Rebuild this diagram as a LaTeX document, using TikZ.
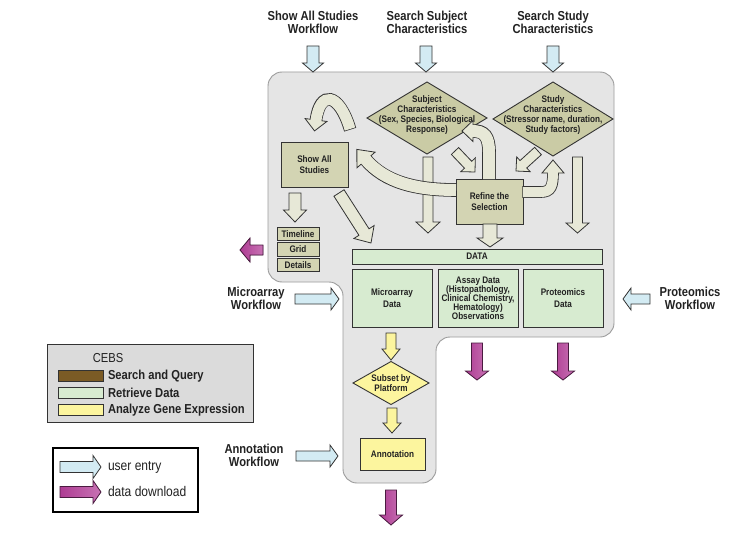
\documentclass[tikz,border=0pt]{standalone}
\usepackage{fontspec}
\setmainfont{Liberation Sans}[FakeStretch=0.86]
\usetikzlibrary{shapes.geometric,calc}
\definecolor{txt}{HTML}{222222}
\definecolor{bd}{HTML}{333333}
\definecolor{region}{HTML}{E5E5E5}
\definecolor{regionbd}{HTML}{9C9C9C}
\definecolor{khaki}{HTML}{D3D4B3}
\definecolor{khakid}{HTML}{CACBA5}
\definecolor{khakil}{HTML}{E7E8D7}
\definecolor{gfill}{HTML}{D7EBD0}
\definecolor{yel}{HTML}{FCF59E}
\definecolor{ublue}{HTML}{D3EBF3}
\definecolor{purp}{HTML}{AE3C93}
\definecolor{purpl}{HTML}{C873B4}
\definecolor{purpd}{HTML}{4A1B40}
\definecolor{sqbrown}{HTML}{7B5B25}
\definecolor{legbg}{HTML}{DBDBDB}
% straight block arrow: style, from, to, half shaft, half head, head length
\newcommand\sarrow[6]{%
  \filldraw[#1] let \p1=(#2), \p2=(#3), \n1={atan2(\y2-\y1,\x2-\x1)}, \n2={veclen(\x2-\x1,\y2-\y1)} in
  [shift={(\p1)}, rotate=\n1] (0,-#4) -- ({\n2-#6},-#4) -- ({\n2-#6},-#5) -- (\n2,0)
  -- ({\n2-#6},#5) -- ({\n2-#6},#4) -- (0,#4) -- cycle;}
% curved block arrow: fill, path, end point, point before end, shaft width, outer width, half head, head length
\newcommand\carrow[8]{%
  \draw[line width=#6pt, bd, shorten <=-0.7pt] #2;
  \filldraw[fill=#1, draw=bd, line width=0.8pt] let \p1=(#4), \p2=(#3), \n1={atan2(\y2-\y1,\x2-\x1)} in
  [shift={(\p2)}, rotate=\n1] (0,-#7) -- (#8,0) -- (0,#7) -- cycle;
  \draw[line width=#5pt, #1, shorten >=-1.2pt] #2;}
\begin{document}
\begin{tikzpicture}[x=1pt,y=-1pt,
  every node/.style={text=txt, align=center, inner sep=0pt, outer sep=0pt},
  nf/.style={font=\fontsize{9.5}{10.5}\selectfont\bfseries},
  tf/.style={font=\fontsize{13}{13}\selectfont\bfseries},
  lf/.style={font=\fontsize{13}{14}\selectfont\bfseries},
  kbox/.style={draw=bd, fill=khaki, line width=0.9pt, nf},
  gbox/.style={draw=bd, fill=gfill, line width=0.9pt, nf},
  ybox/.style={draw=bd, fill=yel, line width=0.9pt, nf},
  dia/.style={diamond, draw=bd, line width=0.9pt, inner sep=0pt},
  ua/.style={fill=ublue, draw=bd, line width=0.8pt},
  pa/.style={left color=purp, right color=purpl, draw=purpd, line width=0.8pt},
  ka/.style={fill=khakil, draw=bd, line width=0.8pt},
  ya/.style={fill=yel, draw=bd, line width=0.8pt},
]
\useasboundingbox (0,0) rectangle (734,535);
\fill[white] (0,0) rectangle (734,535);

% grey region
\draw[fill=region, draw=regionbd, line width=0.9pt, rounded corners=14pt]
  (268,72) -- (614,72) -- (614,337) -- (436,337) -- (436,483) -- (343,483) -- (343,282) -- (268,282) -- cycle;

% titles
\node[tf] (t1) at (313,22.5) {Show All Studies\\Workflow};
\node[tf] (t2) at (427,22.5) {Search Subject\\Characteristics};
\node[tf] (t3) at (553,22.5) {Search Study\\Characteristics};
\node[tf] (mw) at (256,298.5) {Microarray\\Workflow};
\node[tf] (pw) at (690,298.5) {Proteomics\\Workflow};
\node[tf] (aw) at (254,455) {Annotation\\Workflow};

% nodes
\node[kbox, minimum width=67, minimum height=45] (showall) at (314.5,164.5) {Show All\\Studies};
\node[kbox, minimum width=67, minimum height=45, font=\fontsize{9.5}{11}\selectfont\bfseries] (refine) at (489.5,201.5) {Refine the\\Selection};
\node[dia, fill=khakid, minimum width=120, minimum height=72] (subj) at (427,118) {};
\node[font=\fontsize{9.5}{9.7}\selectfont\bfseries] (subjt) at (427,115) {Subject\\Characteristics\\(Sex, Species, Biological\\Response)};
\node[dia, fill=khakid, minimum width=120, minimum height=74] (study) at (553,119) {};
\node[font=\fontsize{9.5}{9.7}\selectfont\bfseries] (studyt) at (553,115) {Study\\Characteristics\\(Stressor name, duration,\\Study factors)};
\node[kbox, minimum width=42, minimum height=13.5] (tl) at (298,234) {Timeline};
\node[kbox, minimum width=42, minimum height=13.5] (grid) at (298,249.5) {Grid};
\node[kbox, minimum width=42, minimum height=13.5] (det) at (298,265) {Details};
\node[gbox, minimum width=250, minimum height=15] (data) at (477,256.5) {DATA};
\node[gbox, minimum width=80, minimum height=58, font=\fontsize{9.5}{12}\selectfont\bfseries] (micro) at (392,298) {Microarray\\Data};
\node[gbox, minimum width=80, minimum height=58, font=\fontsize{9.5}{8.9}\selectfont\bfseries] (assay) at (478,298) {Assay Data\\(Histopathology,\\Clinical Chemistry,\\Hematology)\\Observations};
\node[gbox, minimum width=80, minimum height=58, font=\fontsize{9.5}{12}\selectfont\bfseries] (prot) at (563,298) {Proteomics\\Data};
\node[dia, fill=yel, minimum width=76, minimum height=43] (subset) at (391,383) {};
\node[nf] (subsett) at (391,383) {Subset by\\Platform};
\node[ybox, minimum width=65, minimum height=32] (annot) at (392.5,454) {Annotation};

% arrow end coordinates
\coordinate (a1s) at (313,46);   \coordinate (a1e) at (313,72);
\coordinate (a2s) at (426,46);   \coordinate (a2e) at (426,72);
\coordinate (a3s) at (553,46);   \coordinate (a3e) at (553,72);
\coordinate (mws) at (295,299);  \coordinate (mwe) at (339,299);
\coordinate (pws) at (650,299);  \coordinate (pwe) at (623,299);
\coordinate (aws) at (296,456);  \coordinate (awe) at (338,456);
\coordinate (sts) at (295,193);  \coordinate (ste) at (295,222);
\coordinate (sds) at (339,193);  \coordinate (sde) at (371,243);
\coordinate (sjs) at (428,157);  \coordinate (sje) at (428,233);
\coordinate (sys) at (577.5,157);\coordinate (sye) at (577.5,233);
\coordinate (rds) at (490,224);  \coordinate (rde) at (490,247);
\coordinate (srs) at (455,151);  \coordinate (sre) at (475,172);
\coordinate (yrs) at (538,151);  \coordinate (yre) at (516,171);
\coordinate (mss) at (391,333);  \coordinate (mse) at (391,360);
\coordinate (sas) at (392,408);  \coordinate (sae) at (392,433);
\coordinate (dls) at (263,250);  \coordinate (dle) at (240,250);
\coordinate (das) at (477,343);  \coordinate (dae) at (477,380);
\coordinate (dps) at (563,343);  \coordinate (dpe) at (563,380);
\coordinate (dbs) at (391,490);  \coordinate (dbe) at (391,525);

% user entry arrows
\sarrow{ua}{a1s}{a1e}{6}{10.5}{9}
\sarrow{ua}{a2s}{a2e}{6}{10.5}{9}
\sarrow{ua}{a3s}{a3e}{6}{10.5}{9}
\sarrow{ua}{mws}{mwe}{5}{11}{8}
\sarrow{ua}{pws}{pwe}{5}{11}{8}
\sarrow{ua}{aws}{awe}{5}{11}{8}

% search flow arrows
\sarrow{ka}{sts}{ste}{6}{11.5}{12}
\sarrow{ka}{sds}{sde}{6}{12}{13}
\sarrow{ka}{sjs}{sje}{5}{12}{11}
\sarrow{ka}{sys}{sye}{5}{11.5}{10}
\sarrow{ka}{rds}{rde}{7}{13}{9}
\sarrow{ka}{srs}{sre}{5}{10}{10}
\sarrow{ka}{yrs}{yre}{5}{10}{10}

% curved arrows
\carrow{khakil}{(456,190) .. controls (415,190) and (385,182) .. (366,160)}{366,160}{385,182}{12}{13.6}{12}{14}
\carrow{khakil}{(350,129) .. controls (339,92) and (320,90) .. (316,120)}{316,120}{320,90}{11}{12.6}{11}{11}
\carrow{khakil}{(489,179) -- (489,152) .. controls (489,136) and (484,131) .. (473,131)}{473,131}{482,131}{12}{13.6}{10.5}{11}
\carrow{khakil}{(523,192) -- (541,192) .. controls (551,192) and (553,186) .. (553,173)}{553,173}{553,186}{10}{11.6}{11}{13}

% gene expression arrows
\sarrow{ya}{mss}{mse}{5}{9}{11}
\sarrow{ya}{sas}{sae}{5}{9}{10}

% download arrows
\sarrow{pa}{dls}{dle}{5}{12}{10}
\sarrow{pa}{das}{dae}{5.5}{11.5}{9}
\sarrow{pa}{dps}{dpe}{5.5}{11.5}{9}
\sarrow{pa}{dbs}{dbe}{5.5}{11.5}{10}

% legend CEBS
\node[draw=bd, fill=legbg, line width=0.9pt, minimum width=206, minimum height=78] (cebs) at (150,383) {};
\node[font=\fontsize{13}{13}\selectfont] (cebst) at (108,358) {CEBS};
\node[draw=bd, fill=sqbrown, line width=0.8pt, minimum width=45, minimum height=11] (sw1) at (80.5,376) {};
\node[draw=bd, fill=gfill, line width=0.8pt, minimum width=45, minimum height=11] (sw2) at (80.5,393) {};
\node[draw=bd, fill=yel, line width=0.8pt, minimum width=45, minimum height=11] (sw3) at (80.5,410) {};
\node[lf, anchor=west] (l1) at (108,376) {Search and Query};
\node[lf, anchor=west] (l2) at (108,392.5) {Retrieve Data};
\node[lf, anchor=west] (l3) at (108,410) {Analyze Gene Expression};

% legend arrows
\node[draw=black, fill=white, line width=1.1pt, minimum width=145, minimum height=64] (key) at (125.5,480) {};
\coordinate (k1s) at (60,467); \coordinate (k1e) at (101,467);
\coordinate (k2s) at (60,492); \coordinate (k2e) at (101,492);
\sarrow{ua}{k1s}{k1e}{5.5}{11.5}{8}
\sarrow{pa}{k2s}{k2e}{5.5}{11.5}{8}
\node[font=\fontsize{14}{14}\selectfont, anchor=west] (k1t) at (108,467) {user entry};
\node[font=\fontsize{14}{14}\selectfont, anchor=west] (k2t) at (108,491) {data download};
\end{tikzpicture}
\end{document}
